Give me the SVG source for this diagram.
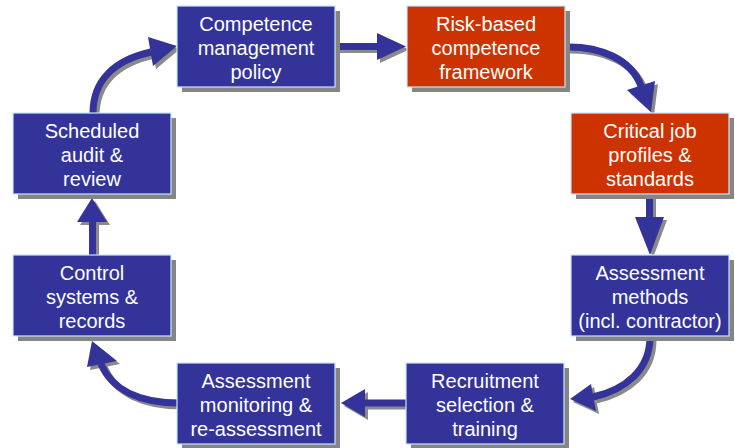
<svg xmlns="http://www.w3.org/2000/svg" width="735" height="448" viewBox="0 0 735 448">
<style>
.bx{fill:#333399;stroke:#C6E6FF;stroke-width:1.2}
.rd{fill:#CC3300;stroke:#C6E6FF;stroke-width:1.2}
.bsh{fill:#858585}
.t{font-family:"Liberation Sans",Arial,sans-serif;font-size:20px;fill:#FFFFFF;text-anchor:middle}
.sh{fill:none;stroke:#333399;stroke-width:7}
.shs{fill:none;stroke:#8A8A8A;stroke-width:7}
.hd{fill:#333399}
.hds{fill:#8A8A8A}
</style>
<rect width="735" height="448" fill="#FFFFFF"/>
<g id="connectors">
  <g transform="translate(3,3)">
    <path class="shs" d="M335 46.5 H378"/>
    <polygon class="hds" points="377,33 406,46.5 377,60"/>
    <path class="shs" d="M565 47 C600 46,631 59,641 86"/>
    <polygon class="hds" points="627,90 655,81 651,112"/>
    <path class="shs" d="M649.5 193 V218"/>
    <polygon class="hds" points="635,217 664,217 650,255"/>
    <path class="shs" d="M650 337 C650 370,625 390,593 397"/>
    <polygon class="hds" points="591,384 596,411 570,399"/>
    <path class="shs" d="M406 403 H364"/>
    <polygon class="hds" points="365,389 365,417 341,403"/>
    <path class="shs" d="M180 403 C140 403,112 390,101 364"/>
    <polygon class="hds" points="87,367 117,361 92,341"/>
    <path class="shs" d="M92.5 255 V221"/>
    <polygon class="hds" points="77,222 107,222 92,198"/>
    <path class="shs" d="M93 113 C93 80,115 60,151 52"/>
    <polygon class="hds" points="148,37 153,66 177,46"/>
  </g>
  <path class="sh" d="M335 46.5 H378"/>
  <polygon class="hd" points="377,33 406,46.5 377,60"/>
  <path class="sh" d="M565 47 C600 46,631 59,641 86"/>
  <polygon class="hd" points="627,90 655,81 651,112"/>
  <path class="sh" d="M649.5 193 V218"/>
  <polygon class="hd" points="635,217 664,217 650,255"/>
  <path class="sh" d="M650 337 C650 370,625 390,593 397"/>
  <polygon class="hd" points="591,384 596,411 570,399"/>
  <path class="sh" d="M406 403 H364"/>
  <polygon class="hd" points="365,389 365,417 341,403"/>
  <path class="sh" d="M180 403 C140 403,112 390,101 364"/>
  <polygon class="hd" points="87,367 117,361 92,341"/>
  <path class="sh" d="M92.5 255 V221"/>
  <polygon class="hd" points="77,222 107,222 92,198"/>
  <path class="sh" d="M93 113 C93 80,115 60,151 52"/>
  <polygon class="hd" points="148,37 153,66 177,46"/>
</g>
<g id="n1">
  <rect class="bsh" x="182" y="11" width="158" height="81"/>
  <rect class="bx" x="177" y="6" width="158" height="81"/>
  <text class="t" x="256" y="30.5">Competence</text>
  <text class="t" x="256" y="54.5">management</text>
  <text class="t" x="256" y="78.5">policy</text>
</g>
<g id="n2">
  <rect class="bsh" x="412" y="11" width="158" height="81"/>
  <rect class="rd" x="407" y="6" width="158" height="81"/>
  <text class="t" x="486" y="30.5">Risk-based</text>
  <text class="t" x="486" y="54.5">competence</text>
  <text class="t" x="486" y="78.5">framework</text>
</g>
<g id="n3">
  <rect class="bsh" x="576" y="118" width="158" height="81"/>
  <rect class="rd" x="571" y="113" width="158" height="81"/>
  <text class="t" x="650" y="137.5">Critical job</text>
  <text class="t" x="650" y="161.5">profiles &amp;</text>
  <text class="t" x="650" y="185.5">standards</text>
</g>
<g id="n4">
  <rect class="bsh" x="576" y="260" width="158" height="81"/>
  <rect class="bx" x="571" y="255" width="158" height="81"/>
  <text class="t" x="650" y="279.5">Assessment</text>
  <text class="t" x="650" y="303.5">methods</text>
  <text class="t" x="650" y="327.5">(incl. contractor)</text>
</g>
<g id="n5">
  <rect class="bsh" x="411" y="368" width="158" height="81"/>
  <rect class="bx" x="406" y="363" width="158" height="81"/>
  <text class="t" x="485" y="387.5">Recruitment</text>
  <text class="t" x="485" y="411.5">selection &amp;</text>
  <text class="t" x="485" y="435.5">training</text>
</g>
<g id="n6">
  <rect class="bsh" x="182" y="368" width="158" height="81"/>
  <rect class="bx" x="177" y="363" width="158" height="81"/>
  <text class="t" x="256" y="387.5">Assessment</text>
  <text class="t" x="256" y="411.5">monitoring &amp;</text>
  <text class="t" x="256" y="435.5">re-assessment</text>
</g>
<g id="n7">
  <rect class="bsh" x="18" y="260" width="158" height="81"/>
  <rect class="bx" x="13" y="255" width="158" height="81"/>
  <text class="t" x="92" y="279.5">Control</text>
  <text class="t" x="92" y="303.5">systems &amp;</text>
  <text class="t" x="92" y="327.5">records</text>
</g>
<g id="n8">
  <rect class="bsh" x="18" y="118" width="158" height="81"/>
  <rect class="bx" x="13" y="113" width="158" height="81"/>
  <text class="t" x="92" y="137.5">Scheduled</text>
  <text class="t" x="92" y="161.5">audit &amp;</text>
  <text class="t" x="92" y="185.5">review</text>
</g>
</svg>
